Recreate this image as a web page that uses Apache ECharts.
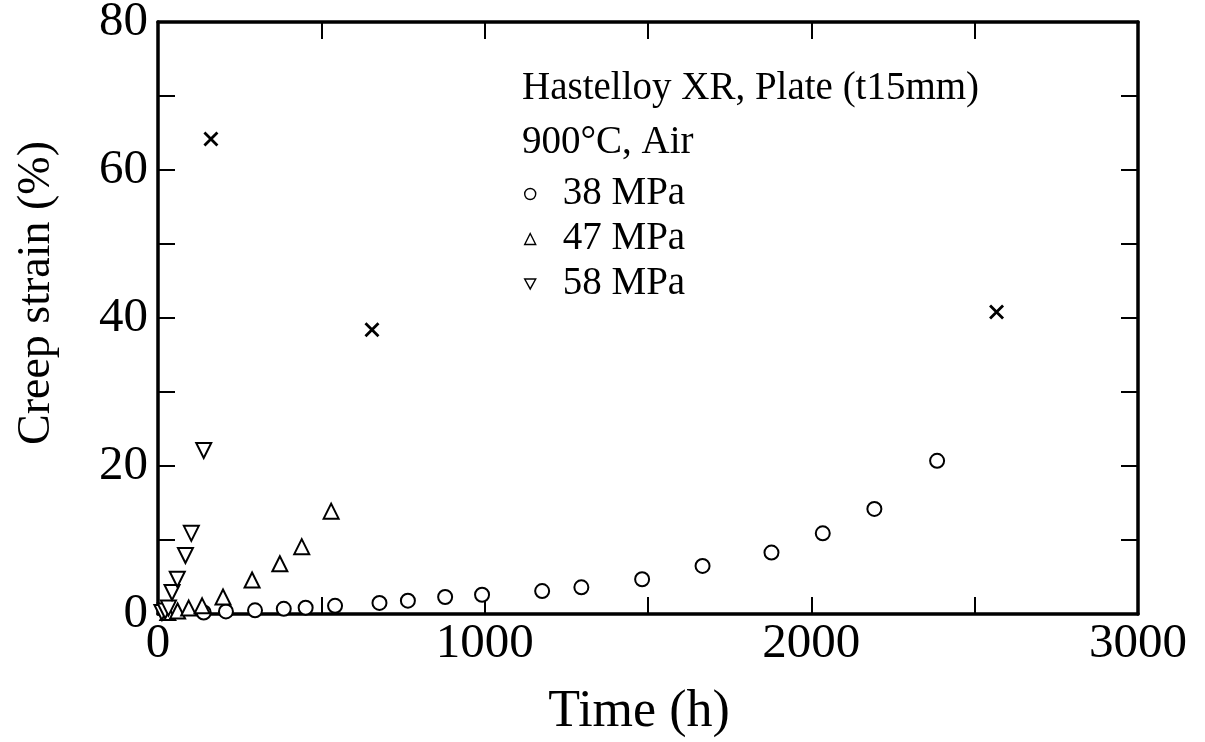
<!DOCTYPE html>
<html>
<head>
<meta charset="utf-8">
<title>Creep strain vs time, Hastelloy XR plate, 900°C</title>
<script src="https://cdn.jsdelivr.net/npm/echarts@6/dist/echarts.min.js"></script>
<style>
  html, body { margin: 0; padding: 0; background: #fff; }
  #chart { width: 1205px; height: 742px; }
</style>
</head>
<body>
<div id="chart"></div>
<script>
// Creep curves: [time (h), creep strain (%)]
const stress38 = [[140, 0.2], [208, 0.35], [297, 0.5], [385, 0.7], [452, 0.85], [542, 1.1], [678, 1.5], [765, 1.8], [879, 2.3], [992, 2.6], [1176, 3.1], [1296, 3.6], [1482, 4.7], [1667, 6.5], [1878, 8.3], [2035, 10.9], [2193, 14.2], [2385, 20.7]];
const stress47 = [[30, 0.2], [60, 0.4], [94, 0.8], [135, 1.1], [199, 2.3], [288, 4.6], [373, 6.8], [440, 9.1], [530, 13.9]];
const stress58 = [[12, 0.2], [22, 0.4], [32, 0.8], [43, 2.9], [59, 4.7], [84, 7.9], [102, 10.9], [140, 22.1]];
// Rupture points (×)
const rupture = [[162, 64.2], [655, 38.4], [2567, 40.8]];

const seriesNames = ['38 MPa', '47 MPa', '58 MPa'];
const headerLines = ['Hastelloy XR, Plate (t15mm)', '900°C, Air'];
const xTitle = 'Time (h)';
const yTitle = 'Creep strain (%)';

const FONT = '"Liberation Serif", "DejaVu Serif", serif';
const INK = '#000';

// Legend icons: open circle, upward and downward triangles
const legendIcons = ['circle', 'triangle', 'path://M0,0L10,0L5,9Z'];

const chart = echarts.init(document.getElementById('chart'), null, { renderer: 'canvas' });

const axisCommon = {
  axisLine: { show: true, onZero: false, lineStyle: { color: INK, width: 3.5 } },
  axisTick: { show: true, inside: true, length: 17, lineStyle: { color: INK, width: 2 } },
  splitLine: { show: false }
};

function legendFor(idx, top) {
  return {
    data: [{ name: seriesNames[idx], icon: legendIcons[idx] }],
    left: 519,
    top: top,
    orient: 'vertical',
    itemWidth: 11,
    itemHeight: idx === 2 ? 10 : 11,
    selectedMode: false,
    itemStyle: { color: '#fff', borderColor: INK, borderWidth: 1.4, opacity: 1 },
    textStyle: { fontFamily: FONT, fontSize: 39, color: INK, lineHeight: 44, padding: [0, 0, 0, 22] }
  };
}

const markerStyle = { color: INK, borderWidth: 1.8, opacity: 1 };

chart.setOption({
  animation: false,
  backgroundColor: '#fff',
  grid: { left: 158, right: 67, top: 22, bottom: 128, containLabel: false, outerBoundsMode: 'none' },
  title: {
    text: headerLines.join('\n'),
    left: 517,
    top: 57,
    textStyle: { fontFamily: FONT, fontSize: 39, fontWeight: 'normal', color: INK, lineHeight: 54 }
  },
  legend: [legendFor(0, 167), legendFor(1, 212), legendFor(2, 257)],
  xAxis: [
    Object.assign({}, axisCommon, {
      type: 'value', position: 'bottom', min: 0, max: 3000, interval: 500,
      axisLabel: {
        margin: 6, fontFamily: FONT, fontSize: 49, color: INK,
        formatter: v => (v % 1000 === 0 ? String(v) : '')
      },
      name: xTitle, nameLocation: 'middle', nameGap: 72,
      nameTextStyle: { fontFamily: FONT, fontSize: 52, color: INK, padding: [0, 18, 0, 0] }
    }),
    Object.assign({}, axisCommon, {
      type: 'value', position: 'top', min: 0, max: 3000, interval: 500,
      axisLabel: { show: false }
    })
  ],
  yAxis: [
    Object.assign({}, axisCommon, {
      type: 'value', position: 'left', min: 0, max: 80, interval: 10,
      axisLabel: {
        margin: 10, fontFamily: FONT, fontSize: 49, color: INK,
        formatter: v => (v % 20 === 0 ? String(v) : '')
      },
      name: yTitle, nameLocation: 'middle', nameGap: 98,
      nameTextStyle: { fontFamily: FONT, fontSize: 46, color: INK, padding: [0, 0, 0, 50] }
    }),
    Object.assign({}, axisCommon, {
      type: 'value', position: 'right', min: 0, max: 80, interval: 10,
      axisLabel: { show: false }
    })
  ],
  series: [
    {
      name: seriesNames[0], type: 'scatter', data: stress38,
      symbol: 'emptyCircle', symbolSize: 14,
      itemStyle: markerStyle
    },
    {
      name: seriesNames[1], type: 'scatter', data: stress47,
      symbol: 'emptyTriangle', symbolSize: 15,
      itemStyle: markerStyle
    },
    {
      name: seriesNames[2], type: 'scatter', data: stress58,
      symbol: 'emptyTriangle', symbolRotate: 180, symbolSize: 15,
      itemStyle: markerStyle
    },
    {
      name: 'Rupture', type: 'scatter', data: rupture,
      symbol: 'path://M0,0L10,10M10,0L0,10', symbolSize: 13,
      itemStyle: { color: 'rgba(0,0,0,0)', borderColor: INK, borderWidth: 2.8, opacity: 1 }
    }
  ]
});
</script>
</body>
</html>
